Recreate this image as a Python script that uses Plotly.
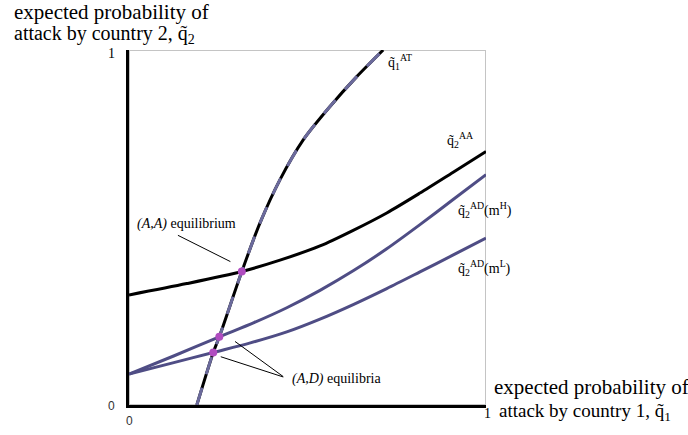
import plotly.graph_objects as go

# ---- data ----
q1_at_x = [0.19, 0.236, 0.253, 0.316, 0.367, 0.423, 0.488, 0.563, 0.638, 0.712]
q1_at_y = [0.0, 0.148, 0.192, 0.376, 0.513, 0.635, 0.747, 0.841, 0.925, 1.0]

q2_aa_x = [0.0, 0.162, 0.316, 0.423, 0.535, 0.628, 0.722, 0.815, 0.907, 1.0]
q2_aa_y = [0.31, 0.342, 0.376, 0.408, 0.448, 0.492, 0.541, 0.597, 0.655, 0.714]

q2_adh_x = [0.0, 0.125, 0.253, 0.35, 0.442, 0.535, 0.628, 0.722, 0.815, 0.907, 1.0]
q2_adh_y = [0.087, 0.138, 0.192, 0.232, 0.274, 0.323, 0.378, 0.44, 0.508, 0.578, 0.649]

q2_adl_x = [0.0, 0.12, 0.236, 0.34, 0.442, 0.535, 0.628, 0.722, 0.815, 0.907, 1.0]
q2_adl_y = [0.087, 0.118, 0.148, 0.175, 0.206, 0.242, 0.283, 0.328, 0.375, 0.422, 0.47]

eq_x = [0.316, 0.253, 0.236]
eq_y = [0.376, 0.192, 0.148]

tick_vals = [0, 1]
tick_text = ["0", "1"]

SERIF = "Liberation Serif, Times New Roman, serif"
SANS = "Liberation Sans, Arial, sans-serif"
SLATE = "#4f4d85"

W, H = 688, 435
L, R, T, B = 129, 202, 50, 30
PW, PH = W - L - R, H - T - B

fig = go.Figure()

fig.add_trace(go.Scatter(x=q2_aa_x, y=q2_aa_y, mode="lines",
                         line=dict(color="black", width=3, shape="spline", smoothing=0.8),
                         hoverinfo="skip"))
fig.add_trace(go.Scatter(x=q2_adh_x, y=q2_adh_y, mode="lines",
                         line=dict(color=SLATE, width=3, shape="spline", smoothing=0.8),
                         hoverinfo="skip"))
fig.add_trace(go.Scatter(x=q2_adl_x, y=q2_adl_y, mode="lines",
                         line=dict(color=SLATE, width=3, shape="spline", smoothing=0.8),
                         hoverinfo="skip"))
fig.add_trace(go.Scatter(x=q1_at_x, y=q1_at_y, mode="lines",
                         line=dict(color="black", width=3, shape="spline", smoothing=0.8),
                         hoverinfo="skip"))
fig.add_trace(go.Scatter(x=q1_at_x, y=q1_at_y, mode="lines",
                         line=dict(color="#6b6a9c", width=3, shape="spline", smoothing=0.8,
                                   dash="18px,14px"),
                         hoverinfo="skip"))
fig.add_trace(go.Scatter(x=eq_x, y=eq_y, mode="markers",
                         marker=dict(color="#b04cc0", size=8), hoverinfo="skip"))

shapes = [
    dict(type="rect", xref="x", yref="y", x0=0, y0=0, x1=1, y1=1,
         line=dict(color="#c4c4c4", width=2), layer="below"),
    dict(type="line", xref="x", yref="y", x0=0.137, y0=0.478, x1=0.284, y1=0.404,
         line=dict(color="black", width=1)),
    dict(type="line", xref="x", yref="y", x0=0.297, y0=0.179, x1=0.432, y1=0.080,
         line=dict(color="black", width=1)),
    dict(type="line", xref="x", yref="y", x0=0.257, y0=0.136, x1=0.432, y1=0.079,
         line=dict(color="black", width=1)),
]

def px(x, y, text, size=13, xanchor="left", color="black", family=SERIF):
    return dict(text=text, x=(x - L) / PW, y=(H - B - y) / PH, xref="paper", yref="paper",
                showarrow=False, xanchor=xanchor, yanchor="middle",
                font=dict(family=family, size=size, color=color))

annotations = [
    px(12, 12, "expected probability of", size=21),
    px(12, 34, "attack by country 2, q̃<sub>2</sub>", size=20),
    px(492, 387, "expected probability of", size=21),
    px(497, 412, "attack by country 1, q̃<sub>1</sub>", size=19),
    px(386, 62, "q̃<sub>1</sub><sup>AT</sup>", size=14),
    px(445, 140, "q̃<sub>2</sub><sup>AA</sup>", size=14),
    px(456, 210, "q̃<sub>2</sub><sup>AD</sup>(m<sup>H</sup>)", size=14),
    px(456, 268, "q̃<sub>2</sub><sup>AD</sup>(m<sup>L</sup>)", size=14),
    px(135, 224, "<i>(A,A)</i> equilibrium", size=14),
    px(290, 379, "<i>(A,D)</i> equilibria", size=14),
    px(111, 54, tick_text[1], size=14, xanchor="center"),
    px(111, 406, tick_text[0], size=12, xanchor="center", color="#333333", family=SANS),
    px(129, 421, tick_text[0], size=12, xanchor="center", color="#333333", family=SANS),
    px(487, 413, tick_text[1], size=14, xanchor="center"),
]

fig.update_layout(
    width=W, height=H,
    margin=dict(l=L, r=R, t=T, b=B, pad=0),
    paper_bgcolor="white", plot_bgcolor="white",
    showlegend=False,
    xaxis=dict(range=[0, 1], showgrid=False, zeroline=False, showticklabels=False,
               ticks="", showline=True, linecolor="black", linewidth=3,
               tickvals=tick_vals, fixedrange=True),
    yaxis=dict(range=[0, 1], showgrid=False, zeroline=False, showticklabels=False,
               ticks="", showline=True, linecolor="black", linewidth=3,
               tickvals=tick_vals, fixedrange=True),
    shapes=shapes,
    annotations=annotations,
)

fig.write_html("out.html")
